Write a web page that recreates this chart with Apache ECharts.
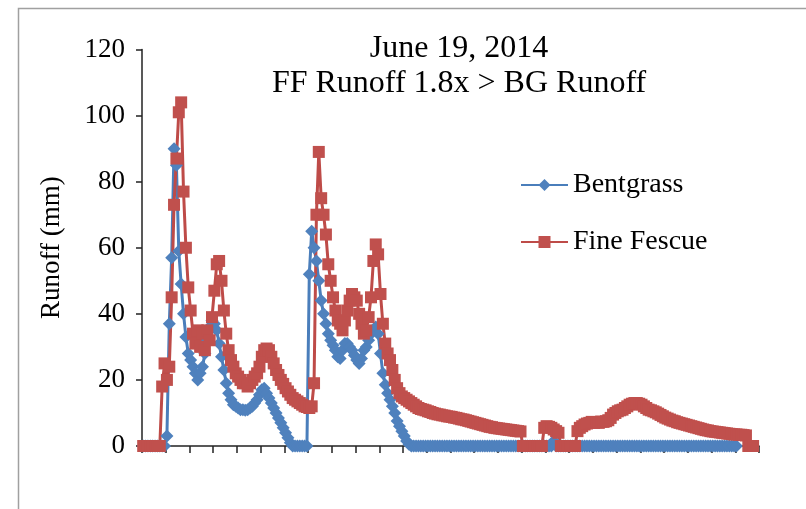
<!DOCTYPE html>
<html>
<head>
<meta charset="utf-8">
<script src="https://cdn.jsdelivr.net/npm/echarts@6/dist/echarts.min.js"></script>
<style>
  html, body { margin: 0; padding: 0; background: #fff; }
  #chart { width: 806px; height: 509px; }
</style>
</head>
<body>
<div id="chart"></div>
<script>
// Runoff readings for one storm event, one value per logging step
const seriesNames = ['Bentgrass', 'Fine Fescue'];

const bentgrass = [
  0, 0, 0, 0, 0, 0, 0, 0, 0, 0,
  3, 37, 57, 90, 85, 59, 49, 40, 33, 28,
  26, 24, 22, 20, 22, 24, 28, 32, 36, 38,
  37, 35, 31, 27, 23, 19, 16, 14, 12.5, 12,
  11.5, 11, 11, 10.8, 11, 11.5, 12, 13, 14, 15.5,
  17, 17.5, 16, 14.5, 13, 11.5, 10, 8.5, 7, 5.5,
  4, 2.5, 1, 0, 0, 0, 0, 0, 0, 0,
  52, 65, 60, 56, 50, 44, 40, 37, 34, 32,
  30.5, 29, 27, 26.5, 29, 31, 31, 30, 29, 27.5,
  26, 25, 26.5, 29, 30, 32, 34, 35, 36, 34,
  28, 22, 18.5, 16, 14, 12, 10, 7.6, 6, 4.5,
  3, 1.5, 0.5, 0, 0, 0, 0, 0, 0, 0,
  0, 0, 0, 0, 0, 0, 0, 0, 0, 0,
  0, 0, 0, 0, 0, 0, 0, 0, 0, 0,
  0, 0, 0, 0, 0, 0, 0, 0, 0, 0,
  0, 0, 0, 0, 0, 0, 0, 0, 0, 0,
  0, 0, 0, 0, 0, 0, 0, 0, 0, 0,
  0, 0, 0, 1.5, 0, 0, 0, 0, 0, 0,
  0, 0, 0, 0, 0, 0, 0, 0, 0, 0,
  0, 0, 0, 0, 0, 0, 0, 0, 0, 0,
  0, 0, 0, 0, 0, 0, 0, 0, 0, 0,
  0, 0, 0, 0, 0, 0, 0, 0, 0, 0,
  0, 0, 0, 0, 0, 0, 0, 0, 0, 0,
  0, 0, 0, 0, 0, 0, 0, 0, 0, 0,
  0, 0, 0, 0, 0, 0, 0, 0, 0, 0,
  0
];

const fineFescue = [
  0, 0, 0, 0, 0, 0, 0, 0, 18, 25,
  20, 24, 45, 73, 87, 101, 104, 77, 60, 48,
  41, 34, 31, 35, 30, 34, 29, 35, 32, 39,
  47, 55, 56, 50, 41, 34, 29, 26, 24, 22,
  21, 20, 19, 19, 18, 19, 20, 21, 22, 24,
  27, 29, 29.5, 29, 27, 25, 23, 21.5, 20, 18.8,
  17.5, 16.5, 15.5, 14.5, 14, 13.5, 13, 12.5, 12, 11.8,
  11.5, 12, 19, 70, 89, 75, 70, 64, 55, 50,
  45, 41, 38, 37, 35, 38, 41, 44, 46, 45,
  44, 40, 37, 34, 35, 39, 45, 56, 61, 58,
  46, 37, 31, 28, 26, 23, 20, 17.5, 16, 15,
  14.5, 14, 13.5, 13, 12.5, 12, 11.5, 11.2, 11, 10.8,
  10.5, 10.3, 10, 9.8, 9.6, 9.5, 9.3, 9.2, 9, 8.9,
  8.8, 8.6, 8.5, 8.3, 8.1, 8, 7.8, 7.6, 7.4, 7.2,
  7, 6.8, 6.6, 6.4, 6.2, 6, 5.8, 5.7, 5.5, 5.4,
  5.3, 5.2, 5.1, 5, 4.9, 4.8, 4.7, 4.6, 4.5, 4.4,
  0, 0, 0, 0, 0, 0, 0, 0, 0, 5.5,
  6, 5.8, 5.5, 5, 4.5, 4, 0, 0, 0, 0,
  0, 0, 0, 4.5, 5.5, 6, 6.5, 6.8, 7, 7.3,
  7, 7.2, 7, 7.4, 7.3, 7.5, 7.8, 8.5, 9.5, 10,
  10.5, 10.8, 11, 11.5, 12, 12.5, 12.8, 13, 13, 12.8,
  12.5, 12, 11.5, 11, 10.8, 10.5, 10.2, 9.8, 9.4, 9,
  8.6, 8.3, 8, 7.7, 7.5, 7.2, 7, 6.8, 6.6, 6.4,
  6.2, 6, 5.8, 5.6, 5.4, 5.2, 5, 4.8, 4.7, 4.5,
  4.4, 4.3, 4.2, 4.1, 4, 3.9, 3.8, 3.7, 3.6, 3.5,
  3.5, 3.4, 3.4, 3.3, 3.2, 0, 0, 0
];

// Logging steps along the x axis (unlabelled, ticked every 10 steps)
const stepCount = 260;
const steps = Array.from({ length: stepCount }, (_, i) => String(i + 1));

const yTicks = { min: 0, max: 120, interval: 20 };

const serif = '"Liberation Serif", "Times New Roman", serif';

const chart = echarts.init(document.getElementById('chart'), null, { renderer: 'canvas' });

chart.setOption({
  backgroundColor: '#ffffff',
  animation: false,
  graphic: [{
    type: 'rect',
    left: 16,
    top: 6,
    shape: { x: 0, y: 0, width: 900, height: 700 },
    style: { fill: 'none', stroke: '#a0a0a0', lineWidth: 1.5 },
    silent: true,
    z: -1
  }],
  title: {
    text: 'June 19, 2014\nFF Runoff 1.8x > BG Runoff',
    left: 454,
    top: 26,
    textAlign: 'center',
    textStyle: {
      fontFamily: serif,
      fontSize: 32,
      fontWeight: 'normal',
      color: '#000',
      lineHeight: 35
    }
  },
  legend: {
    orient: 'vertical',
    left: 520,
    top: 170,
    padding: 0,
    itemWidth: 47,
    itemHeight: 15,
    itemGap: 27,
    textStyle: {
      fontFamily: serif,
      fontSize: 28,
      color: '#000',
      lineHeight: 30
    },
    data: seriesNames
  },
  grid: {
    left: 142,
    right: 47,
    top: 49.5,
    bottom: 63,
    containLabel: false
  },
  xAxis: {
    type: 'category',
    data: steps,
    boundaryGap: true,
    axisLine: { show: true, lineStyle: { color: '#222', width: 1.5 } },
    axisTick: { show: true, interval: 9, length: 7, inside: false, lineStyle: { color: '#222', width: 1.5 } },
    axisLabel: { show: false },
    splitLine: { show: false }
  },
  yAxis: {
    type: 'value',
    min: yTicks.min,
    max: yTicks.max,
    interval: yTicks.interval,
    name: 'Runoff (mm)',
    nameLocation: 'middle',
    nameGap: 77,
    nameTextStyle: { fontFamily: serif, fontSize: 27, color: '#000' },
    axisLine: { show: true, lineStyle: { color: '#222', width: 1.5 } },
    axisTick: { show: true, length: 6, inside: false, lineStyle: { color: '#222', width: 1.5 } },
    axisLabel: { fontFamily: serif, fontSize: 27, color: '#000', margin: 17 },
    splitLine: { show: false }
  },
  series: [
    {
      name: seriesNames[0],
      type: 'line',
      data: bentgrass,
      symbol: 'diamond',
      symbolSize: 13,
      showAllSymbol: true,
      color: '#4F81BD',
      lineStyle: { color: '#4A7EBB', width: 3 },
      itemStyle: { color: '#4F81BD', borderWidth: 0 }
    },
    {
      name: seriesNames[1],
      type: 'line',
      data: fineFescue,
      symbol: 'rect',
      symbolSize: 12,
      showAllSymbol: true,
      color: '#C0504D',
      lineStyle: { color: '#BE4B48', width: 3 },
      itemStyle: { color: '#C0504D', borderWidth: 0 }
    }
  ]
});
</script>
</body>
</html>
